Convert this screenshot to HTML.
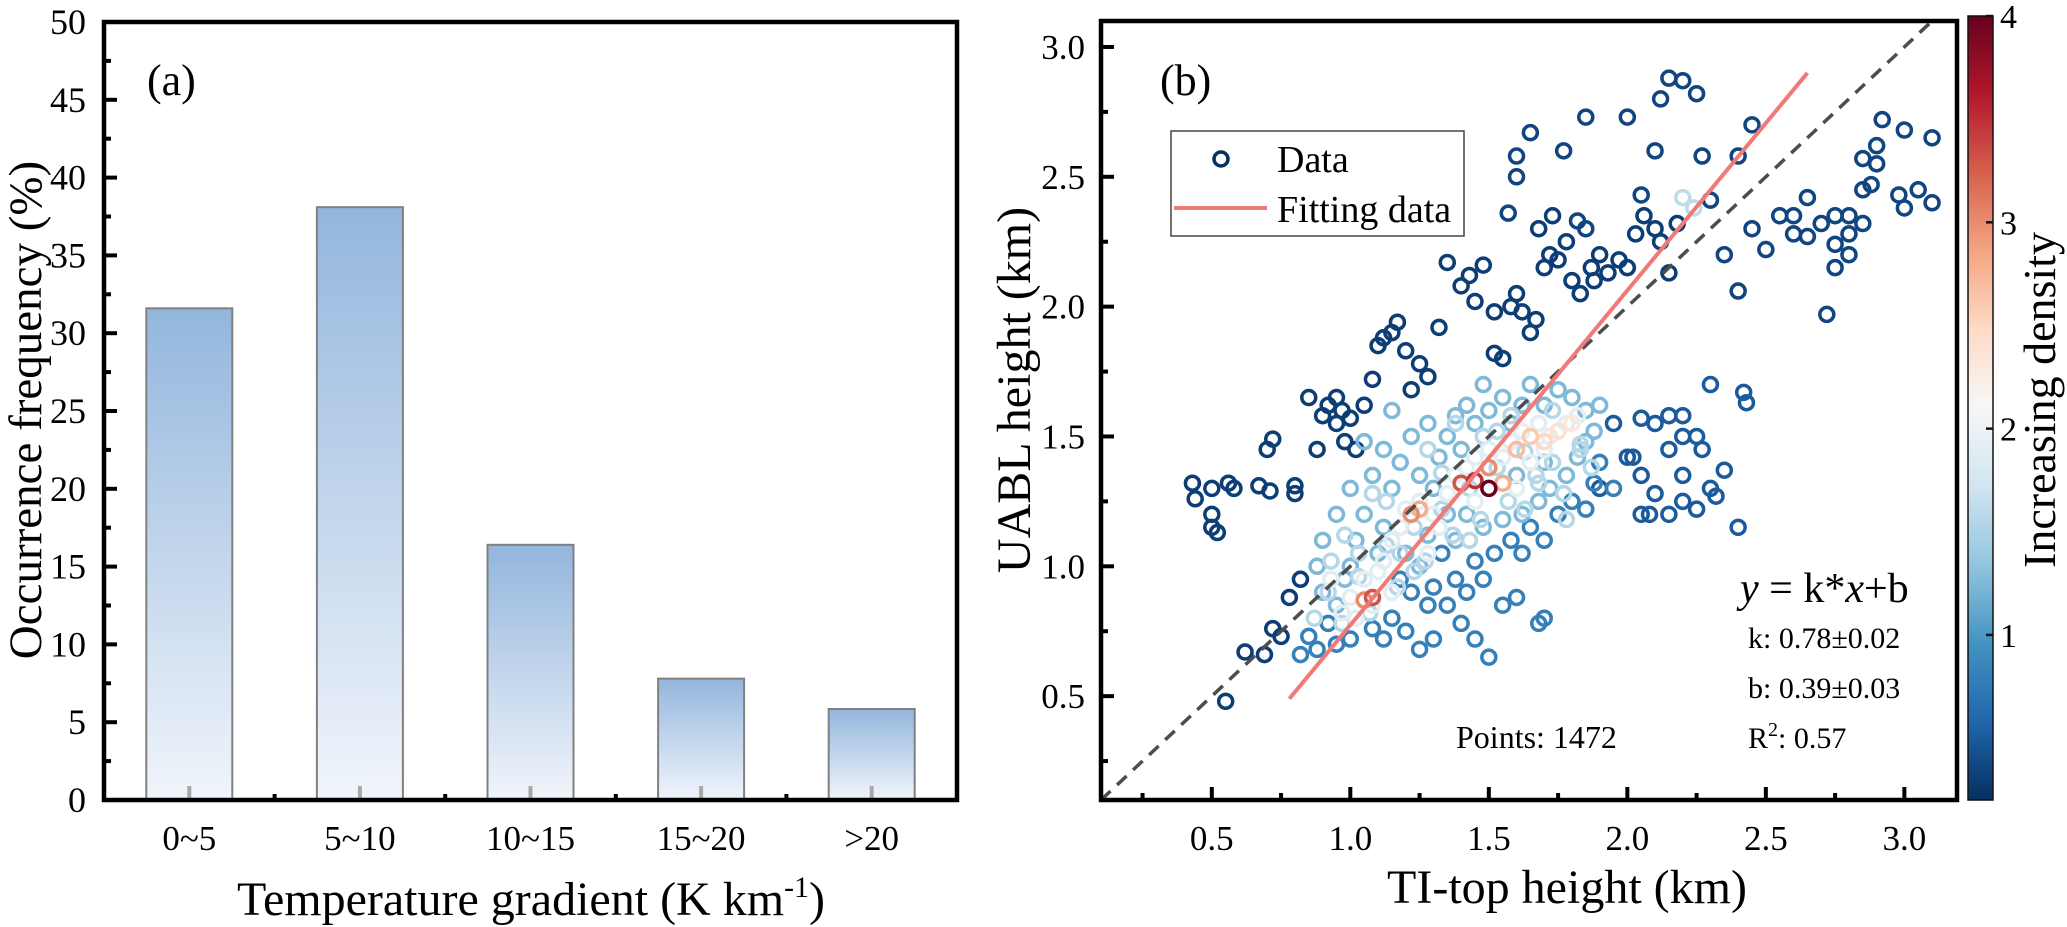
<!DOCTYPE html>
<html><head><meta charset="utf-8"><style>
html,body{margin:0;padding:0;background:#fff;}
svg{display:block;font-family:"Liberation Serif",serif;}
</style></head><body>
<svg id="fig" width="2067" height="927" viewBox="0 0 2067 927" xmlns="http://www.w3.org/2000/svg">
<defs>
<linearGradient id="barGrad" x1="0" y1="0" x2="0" y2="1">
<stop offset="0" stop-color="#93b6dd"/><stop offset="1" stop-color="#f1f5fb"/>
</linearGradient>
<linearGradient id="cbGrad" x1="0" y1="1" x2="0" y2="0">
<stop offset="0" stop-color="#053061"/><stop offset="0.1" stop-color="#2166ac"/><stop offset="0.2" stop-color="#4393c3"/>
<stop offset="0.3" stop-color="#92c5de"/><stop offset="0.4" stop-color="#d1e5f0"/><stop offset="0.5" stop-color="#f7f7f7"/>
<stop offset="0.6" stop-color="#fddbc7"/><stop offset="0.7" stop-color="#f4a582"/><stop offset="0.8" stop-color="#d6604d"/>
<stop offset="0.9" stop-color="#b2182b"/><stop offset="1" stop-color="#67001f"/>
</linearGradient>
<clipPath id="clipB"><rect x="1101" y="21" width="856" height="779"/></clipPath>
</defs>
<g id="panelA"></g>
<g id="panelB"></g>
<text x="147" y="95" font-size="44">(a)</text>
<text x="531" y="915" font-size="48" text-anchor="middle">Temperature gradient (K km<tspan dy="-18" font-size="30">-1</tspan><tspan dy="18">)</tspan></text>
<text transform="translate(41,410) rotate(-90)" font-size="47" text-anchor="middle">Occurrence frequency (%)</text>
<text x="1160" y="95" font-size="44">(b)</text>
<text x="1567" y="903" font-size="48" text-anchor="middle">TI-top height (km)</text>
<text transform="translate(1030,390) rotate(-90)" font-size="48" text-anchor="middle">UABL height (km)</text>
<g>
<text x="1740" y="602" font-size="42"><tspan font-style="italic">y</tspan> = k*<tspan font-style="italic">x</tspan>+b</text>
<text x="1748" y="648" font-size="30">k: 0.78±0.02</text>
<text x="1748" y="698" font-size="30">b: 0.39±0.03</text>
<text x="1748" y="748" font-size="30">R<tspan dy="-12" font-size="20">2</tspan><tspan dy="12">: 0.57</tspan></text>
<text x="1456" y="748" font-size="32">Points: 1472</text>
</g>
<g>
<rect x="1171" y="131" width="293" height="105" fill="#fff" stroke="#444" stroke-width="1.5"/>
<circle cx="1221" cy="159" r="7" fill="none" stroke="#053061" stroke-width="3.5"/>
<text x="1277" y="172" font-size="38">Data</text>
<line x1="1174" y1="208" x2="1267" y2="208" stroke="#f07a78" stroke-width="4"/>
<text x="1277" y="222" font-size="38">Fitting data</text>
</g>
<g id="cbar">
<rect x="1968" y="16" width="25" height="784" fill="url(#cbGrad)" stroke="#111" stroke-width="1.5"/>
</g>
<text transform="translate(2055,400) rotate(-90)" font-size="46" text-anchor="middle">Increasing density</text>
</svg>
<script>
const NS="http://www.w3.org/2000/svg";
// Panel (a) data
const categories=["0~5","5~10","10~15","15~20",">20"];
const frequencies=[31.6,38.1,16.4,7.8,5.85];
const yTicksA=[0,5,10,15,20,25,30,35,40,45,50];
// Panel (b) data
const xTicksB=[0.5,1.0,1.5,2.0,2.5,3.0];
const yTicksB=[0.5,1.0,1.5,2.0,2.5,3.0];
const cbTicks=[1,2,3,4];
const fitX=[0.78,2.65];
const fitY=[0.49,2.9];
const refLine=[0.1,3.2];
const ptX=[0.43,0.44,0.50,0.50,0.50,0.52,0.56,0.58,0.55,0.62,0.67,0.70,0.72,0.71,0.69,0.72,0.75,0.80,0.80,0.78,0.82,0.85,0.88,0.90,0.92,0.95,0.95,0.97,0.98,1.00,1.02,1.05,1.08,1.10,1.12,1.15,1.17,1.20,1.25,1.22,1.28,1.32,1.35,1.40,1.43,1.48,1.52,1.55,1.58,1.60,1.62,1.65,1.67,1.70,1.72,1.75,1.78,1.80,1.83,1.87,1.90,1.93,1.97,2.00,2.03,2.06,2.10,2.12,2.15,2.18,1.68,1.73,1.88,1.45,1.52,
2.15,2.20,2.12,2.25,1.85,2.00,1.65,2.45,1.60,1.77,2.10,2.27,2.40,2.05,1.60,1.57,1.82,1.85,2.30,2.50,2.45,2.35,2.40,2.60,2.75,2.80,2.85,2.88,2.90,2.92,2.85,2.90,3.00,3.10,3.05,3.10,3.00,2.98,2.75,2.80,2.72,2.55,2.65,2.70,2.65,2.60,2.85,2.75,2.80,
2.20,2.10,2.05,2.15,2.20,2.25,2.27,2.30,2.42,2.43,2.35,2.30,2.20,2.25,2.15,2.05,2.10,2.15,2.20,2.32,2.40,2.02,2.08,1.95,2.00,2.05,1.90,
1.50,1.55,1.60,1.68,1.70,1.45,1.40,1.35,1.30,1.25,1.20,1.15,1.48,1.52,1.58,1.62,1.65,1.70,1.75,1.80,1.85,1.88,1.90,1.95,1.45,1.42,1.38,1.33,1.30,1.28,1.22,1.18,1.12,1.08,1.00,0.95,0.92,0.88,0.85,0.82,
0.95,0.98,1.00,1.02,1.05,1.00,0.95,0.90,0.88,0.90,1.10,1.12,1.15,1.18,1.12,1.08,1.20,1.25,1.28,1.30,1.32,1.35,1.38,1.42,1.45,1.48,1.50,1.55,1.58,1.62,1.65,1.70,1.75,1.80,1.85,1.88,1.82,1.78,1.72,1.68,1.62,1.55,1.48,1.42,1.38,1.35,1.25,1.22,1.28,1.15,1.05,1.40,1.60,1.70,1.85,1.90,
0.92,0.97,1.03,1.07,1.13,1.17,1.23,1.27,1.33,1.37,1.43,1.47,1.53,1.57,1.63,1.67,1.73,1.77,1.83,1.87,0.93,1.03,1.13,1.23,1.33,1.43,1.53,1.63,1.73,1.83,0.87,0.98,1.08,1.18,1.28,1.38,1.48,1.58,1.68,1.78,
0.97,1.00,1.02,1.05,1.10,1.12,1.15,1.18,1.20,1.25,1.30,1.35,1.38,1.42,1.45,1.50,1.55,1.58,1.62,1.68,1.72,1.78,1.82,1.70,1.65,1.60,1.45,1.32,1.28,1.08,1.15,0.93,2.20,2.24,
1.75,1.80,1.60,1.65,1.70,1.50,1.55,1.22,1.25,1.05,1.08,1.40,1.45,1.50];
const ptY=[1.32,1.26,1.30,1.20,1.15,1.13,1.32,1.30,0.48,0.67,1.31,1.45,1.49,1.29,0.66,0.76,0.73,1.28,1.31,0.88,0.95,1.65,1.45,1.58,1.62,1.65,1.55,1.60,1.48,1.57,1.45,1.62,1.72,1.85,1.88,1.90,1.94,1.83,1.78,1.68,1.73,1.92,2.17,2.08,2.12,2.16,1.82,1.80,2.00,2.05,1.98,1.90,1.95,2.15,2.20,2.18,2.25,2.10,2.05,2.15,2.20,2.13,2.18,2.15,2.28,2.35,2.30,2.25,2.13,2.32,2.30,2.35,2.10,2.02,1.98,
2.88,2.87,2.80,2.82,2.73,2.73,2.67,2.70,2.58,2.60,2.60,2.58,2.58,2.43,2.50,2.36,2.33,2.30,2.41,2.22,2.30,2.20,2.06,2.28,2.24,2.28,2.32,2.47,2.62,2.72,2.57,2.55,2.68,2.65,2.45,2.40,2.38,2.43,2.15,2.20,1.97,2.35,2.42,2.32,2.27,2.35,2.45,2.35,2.35,
1.50,1.55,1.57,1.58,1.58,1.50,1.45,1.70,1.67,1.63,1.37,1.30,1.25,1.22,1.20,1.35,1.28,1.45,1.35,1.27,1.15,1.42,1.20,1.55,1.42,1.20,1.30,
0.65,0.85,0.88,0.78,0.80,0.72,0.78,0.85,0.72,0.68,0.75,0.80,0.95,1.05,1.10,1.05,1.15,1.10,1.20,1.25,1.22,1.32,1.40,1.30,1.02,0.90,0.95,1.05,0.92,0.85,0.90,0.95,0.72,0.76,0.72,0.70,0.78,0.68,0.73,0.66,
0.85,0.95,1.00,1.10,1.20,1.30,1.20,1.10,1.00,0.90,1.05,1.15,1.30,1.40,1.45,1.35,1.05,1.00,1.12,1.30,1.42,1.50,1.58,1.62,1.55,1.70,1.60,1.65,1.55,1.62,1.70,1.62,1.68,1.65,1.60,1.52,1.42,1.35,1.30,1.25,1.20,1.18,1.15,1.20,1.10,1.20,1.35,1.50,1.55,1.60,1.48,1.45,1.35,1.40,1.48,1.62,
0.90,0.78,1.05,0.82,1.08,0.92,1.15,1.02,1.22,1.12,1.30,1.18,1.38,1.25,1.44,1.35,1.40,1.28,1.47,1.38,1.02,0.96,1.25,0.98,1.36,1.10,1.52,1.22,1.60,1.45,0.80,1.12,1.28,1.05,1.45,1.55,1.50,1.58,1.32,1.18,
0.82,0.88,0.80,0.95,0.98,1.02,1.10,1.15,1.22,1.25,1.20,1.28,1.35,1.38,1.42,1.45,1.42,1.48,1.52,1.55,1.50,1.55,1.58,1.45,1.40,1.30,1.25,1.15,1.05,0.85,0.90,0.95,2.42,2.38,
1.52,1.55,1.45,1.50,1.48,1.38,1.32,1.20,1.22,0.87,0.88,1.32,1.33,1.30];
const ptD=[];
(function(){
 const groups=[[75,0.3],[49,0.35],[27,0.5],[40,0.8],[56,1.25],[40,1.55],[32,1.9],[2,1.6]];
 for(const g of groups) for(let i=0;i<g[0];i++) ptD.push(g[1]);
})();
const hotD=[2.4,2.3,2.7,2.6,2.5,3.0,2.8,3.0,2.8,3.0,3.3,3.3,3.5,4.0];
for(const d of hotD) ptD.push(d);

function el(tag,attrs,parent){const e=document.createElementNS(NS,tag);for(const k in attrs)e.setAttribute(k,attrs[k]);parent.appendChild(e);return e;}

// ---- Panel A ----
const gA=document.getElementById('panelA');
const aL=104,aR=957,aT=22,aB=800;
const band=(aR-aL)/categories.length;
const xA=i=>aL+band*(i+0.5);
const yA=v=>aB-(v/50)*(aB-aT);
categories.forEach((c,i)=>{
 const w=86,h=aB-yA(frequencies[i]);
 const r=el('rect',{x:xA(i)-w/2,y:yA(frequencies[i]),width:w,height:h,fill:'url(#barGrad)',stroke:'#808080','stroke-width':2},gA);
 
 
 const m=el('rect',{x:xA(i)-2,y:aB-14,width:4,height:13,fill:'#a8a8a8'},gA);
 
 
 const t=el('text',{x:xA(i),y:aB+50,'font-size':35,'text-anchor':'middle'},gA);
 t.textContent=c;
 
 
 if(i>0){const tk=el('line',{x1:aL+band*i,x2:aL+band*i,y1:aB,y2:aB-6,stroke:'#000','stroke-width':4},gA);
 
 }
});
yTicksA.forEach(v=>{
 const y=yA(v);
 const tk=el('line',{x1:aL,x2:aL+13,y1:y,y2:y,stroke:'#000','stroke-width':4},gA);
 
 
 if(v<50){const mt=el('line',{x1:aL,x2:aL+7,y1:yA(v+2.5),y2:yA(v+2.5),stroke:'#000','stroke-width':4},gA);
 
 }
 const t=el('text',{x:aL-18,y:y+12,'font-size':36,'text-anchor':'end'},gA);
 t.textContent=v;
 
 
});
const frA=el('rect',{x:aL,y:aT,width:aR-aL,height:aB-aT,fill:'none',stroke:'#000','stroke-width':4.5},gA);



// ---- Panel B ----
const gB=document.getElementById('panelB');
const bL=1101,bR=1957,bT=21,bB=800;
const xMin=0.1,xMax=3.19,yMin=0.1,yMax=3.1;
const xB=v=>bL+(v-xMin)/(xMax-xMin)*(bR-bL);
const yB=v=>bB-(v-yMin)/(yMax-yMin)*(bB-bT);
const stops=[[5,48,97],[33,102,172],[67,147,195],[146,197,222],[209,229,240],[247,247,247],[253,219,199],[244,165,130],[214,96,77],[178,24,43],[103,0,31]];
function cmap(d){let t=(d-0.2)/3.8;t=Math.max(0,Math.min(1,t))*10;const i=Math.min(9,Math.floor(t)),f=t-i;const a=stops[i],b=stops[i+1];return 'rgb('+a.map((c,k)=>Math.round(c+(b[k]-c)*f)).join(',')+')';}
const gPts=el('g',{'clip-path':'url(#clipB)'},gB);


const idx=ptX.map((_,i)=>i).sort((a,b)=>ptD[a]-ptD[b]);
idx.forEach(i=>{
 const c=el('circle',{cx:xB(ptX[i]),cy:yB(ptY[i]),r:7,fill:'none',stroke:cmap(ptD[i]),'stroke-width':3.5},gPts);
 
 
});
const ref=el('line',{x1:xB(refLine[0]),y1:yB(refLine[0]),x2:xB(refLine[1]),y2:yB(refLine[1]),stroke:'#4d4d4d','stroke-width':3.5,'stroke-dasharray':'13 9','clip-path':'url(#clipB)'},gB);


const fit=el('line',{x1:xB(fitX[0]),y1:yB(fitY[0]),x2:xB(fitX[1]),y2:yB(fitY[1]),stroke:'#f07a78','stroke-width':4},gB);


xTicksB.forEach(v=>{
 const x=xB(v);
 const tk=el('line',{x1:x,x2:x,y1:bB,y2:bB-13,stroke:'#000','stroke-width':4},gB);
 
 
 const mt=el('line',{x1:xB(v-0.25),x2:xB(v-0.25),y1:bB,y2:bB-7,stroke:'#000','stroke-width':4},gB);
 
 
 const t=el('text',{x:x,y:bB+50,'font-size':35,'text-anchor':'middle'},gB);
 t.textContent=v.toFixed(1);
 
 
});
yTicksB.forEach(v=>{
 const y=yB(v);
 const tk=el('line',{x1:bL,x2:bL+13,y1:y,y2:y,stroke:'#000','stroke-width':4},gB);
 
 
 const mt=el('line',{x1:bL,x2:bL+7,y1:yB(v-0.25),y2:yB(v-0.25),stroke:'#000','stroke-width':4},gB);
 
 
 const t=el('text',{x:bL-16,y:y+12,'font-size':35,'text-anchor':'end'},gB);
 t.textContent=v.toFixed(1);
 
 
});
const frB=el('rect',{x:bL,y:bT,width:bR-bL,height:bB-bT,fill:'none',stroke:'#000','stroke-width':4.5},gB);



// ---- Colorbar ----
const gC=document.getElementById('cbar');
const cT=16,cBt=800,cMin=0.2,cMax=4;
const yC=v=>cBt-(v-cMin)/(cMax-cMin)*(cBt-cT);
cbTicks.forEach(v=>{
 const y=yC(v);
 const tk=el('line',{x1:1986,x2:1993,y1:y,y2:y,stroke:'#111','stroke-width':2.5},gC);
 
 
 const t=el('text',{x:2000,y:y+12,'font-size':34},gC);
 t.textContent=v;
 
 
});
</script>
</body></html>
